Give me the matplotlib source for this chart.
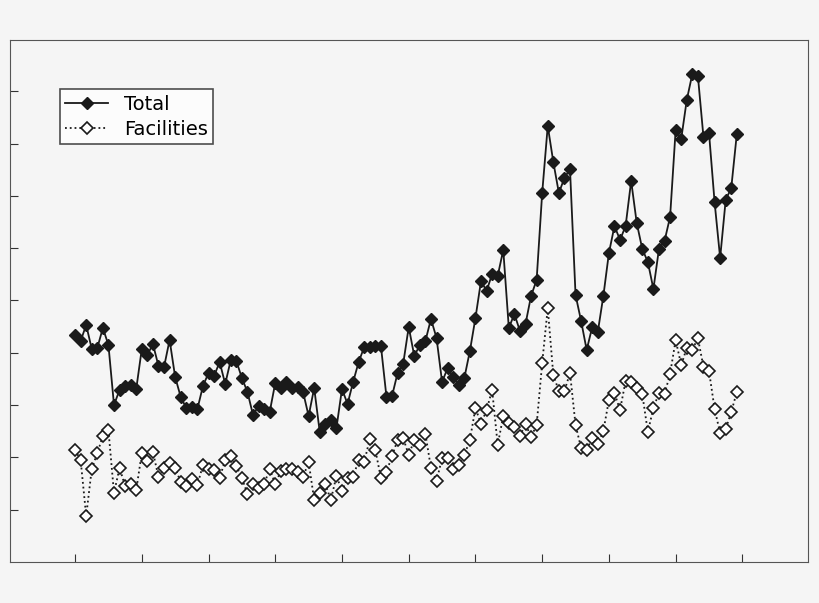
import matplotlib
matplotlib.use("Agg")
import matplotlib.pyplot as plt
import numpy as np

# pixel-read values converted to chart units (tick spacing = 1 unit)
total_px = [335,341,325,349,348,328,345,405,390,386,
            385,389,349,355,344,366,367,340,377,397,
            408,407,409,386,373,376,362,384,360,361,
            378,392,415,406,409,412,383,388,382,388,
            387,392,416,388,432,424,420,428,389,404,
            382,362,347,347,346,346,397,396,373,364,
            327,356,345,341,319,338,382,368,377,385,
            378,351,318,281,291,274,276,250,328,314,
            331,324,296,280,193,126,162,193,178,169,
            295,321,350,327,332,296,253,226,240,226,
            181,223,249,262,289,249,241,217,130,139,
            100,74,76,137,133,202,258,200,188,134]
facilities_px = [450,460,516,469,453,436,430,493,468,486,
                 484,490,453,461,452,477,468,463,468,482,
                 486,479,485,465,469,470,478,460,456,466,
                 478,494,484,488,484,469,484,471,469,469,
                 472,477,462,500,493,484,500,476,491,478,
                 477,460,462,439,450,478,472,456,440,438,
                 455,440,445,434,468,481,458,458,469,465,
                 455,440,408,424,410,390,445,416,423,427,
                 436,424,
                 437,425,363,308,375,391,391,373,425,448,
                 450,438,444,431,400,393,410,381,382,388,
                 394,432,408,393,394,374,340,365,348,350,
                 338,367,371,409,433,429,412,392]
total = [(562 - v) / 52.3 for v in total_px]
facilities = [(562 - v) / 52.3 for v in facilities_px]
months = np.arange(len(total))

fig = plt.figure(figsize=(8.2, 6.03), dpi=100, facecolor="#f5f5f5")
ax = fig.add_axes([10/820, 41/603, 798/820, 522/603])
ax.set_facecolor("#f5f5f5")
ax.plot(months, total, "-", color="#1a1a1a", lw=1.3, marker="D", ms=6,
        mfc="#1a1a1a", mec="#1a1a1a", label="Total")
ax.plot(months, facilities, ":", color="#1a1a1a", lw=1.3, marker="D", ms=6,
        mfc="white", mec="#1a1a1a", mew=1.2, label="Facilities")
ax.set_xlim(-11.7, 131.8)
ax.set_ylim(0, 9.98)
ax.set_xticks(np.arange(0, 121, 12))
ax.set_yticks(np.arange(1, 10))
ax.tick_params(direction="in", length=6, labelbottom=False, labelleft=False, color="#333")
for s in ax.spines.values():
    s.set_color("#555")
    s.set_linewidth(0.8)
leg = ax.legend(loc="upper left", bbox_to_anchor=(0.05, 0.925), fontsize=14,
                frameon=True, fancybox=False, edgecolor="#222", facecolor="white",
                handlelength=2.2, borderpad=0.3, labelspacing=0.3)
leg.get_frame().set_linewidth(1.2)
fig.savefig("out.png", dpi=100, facecolor=fig.get_facecolor())
